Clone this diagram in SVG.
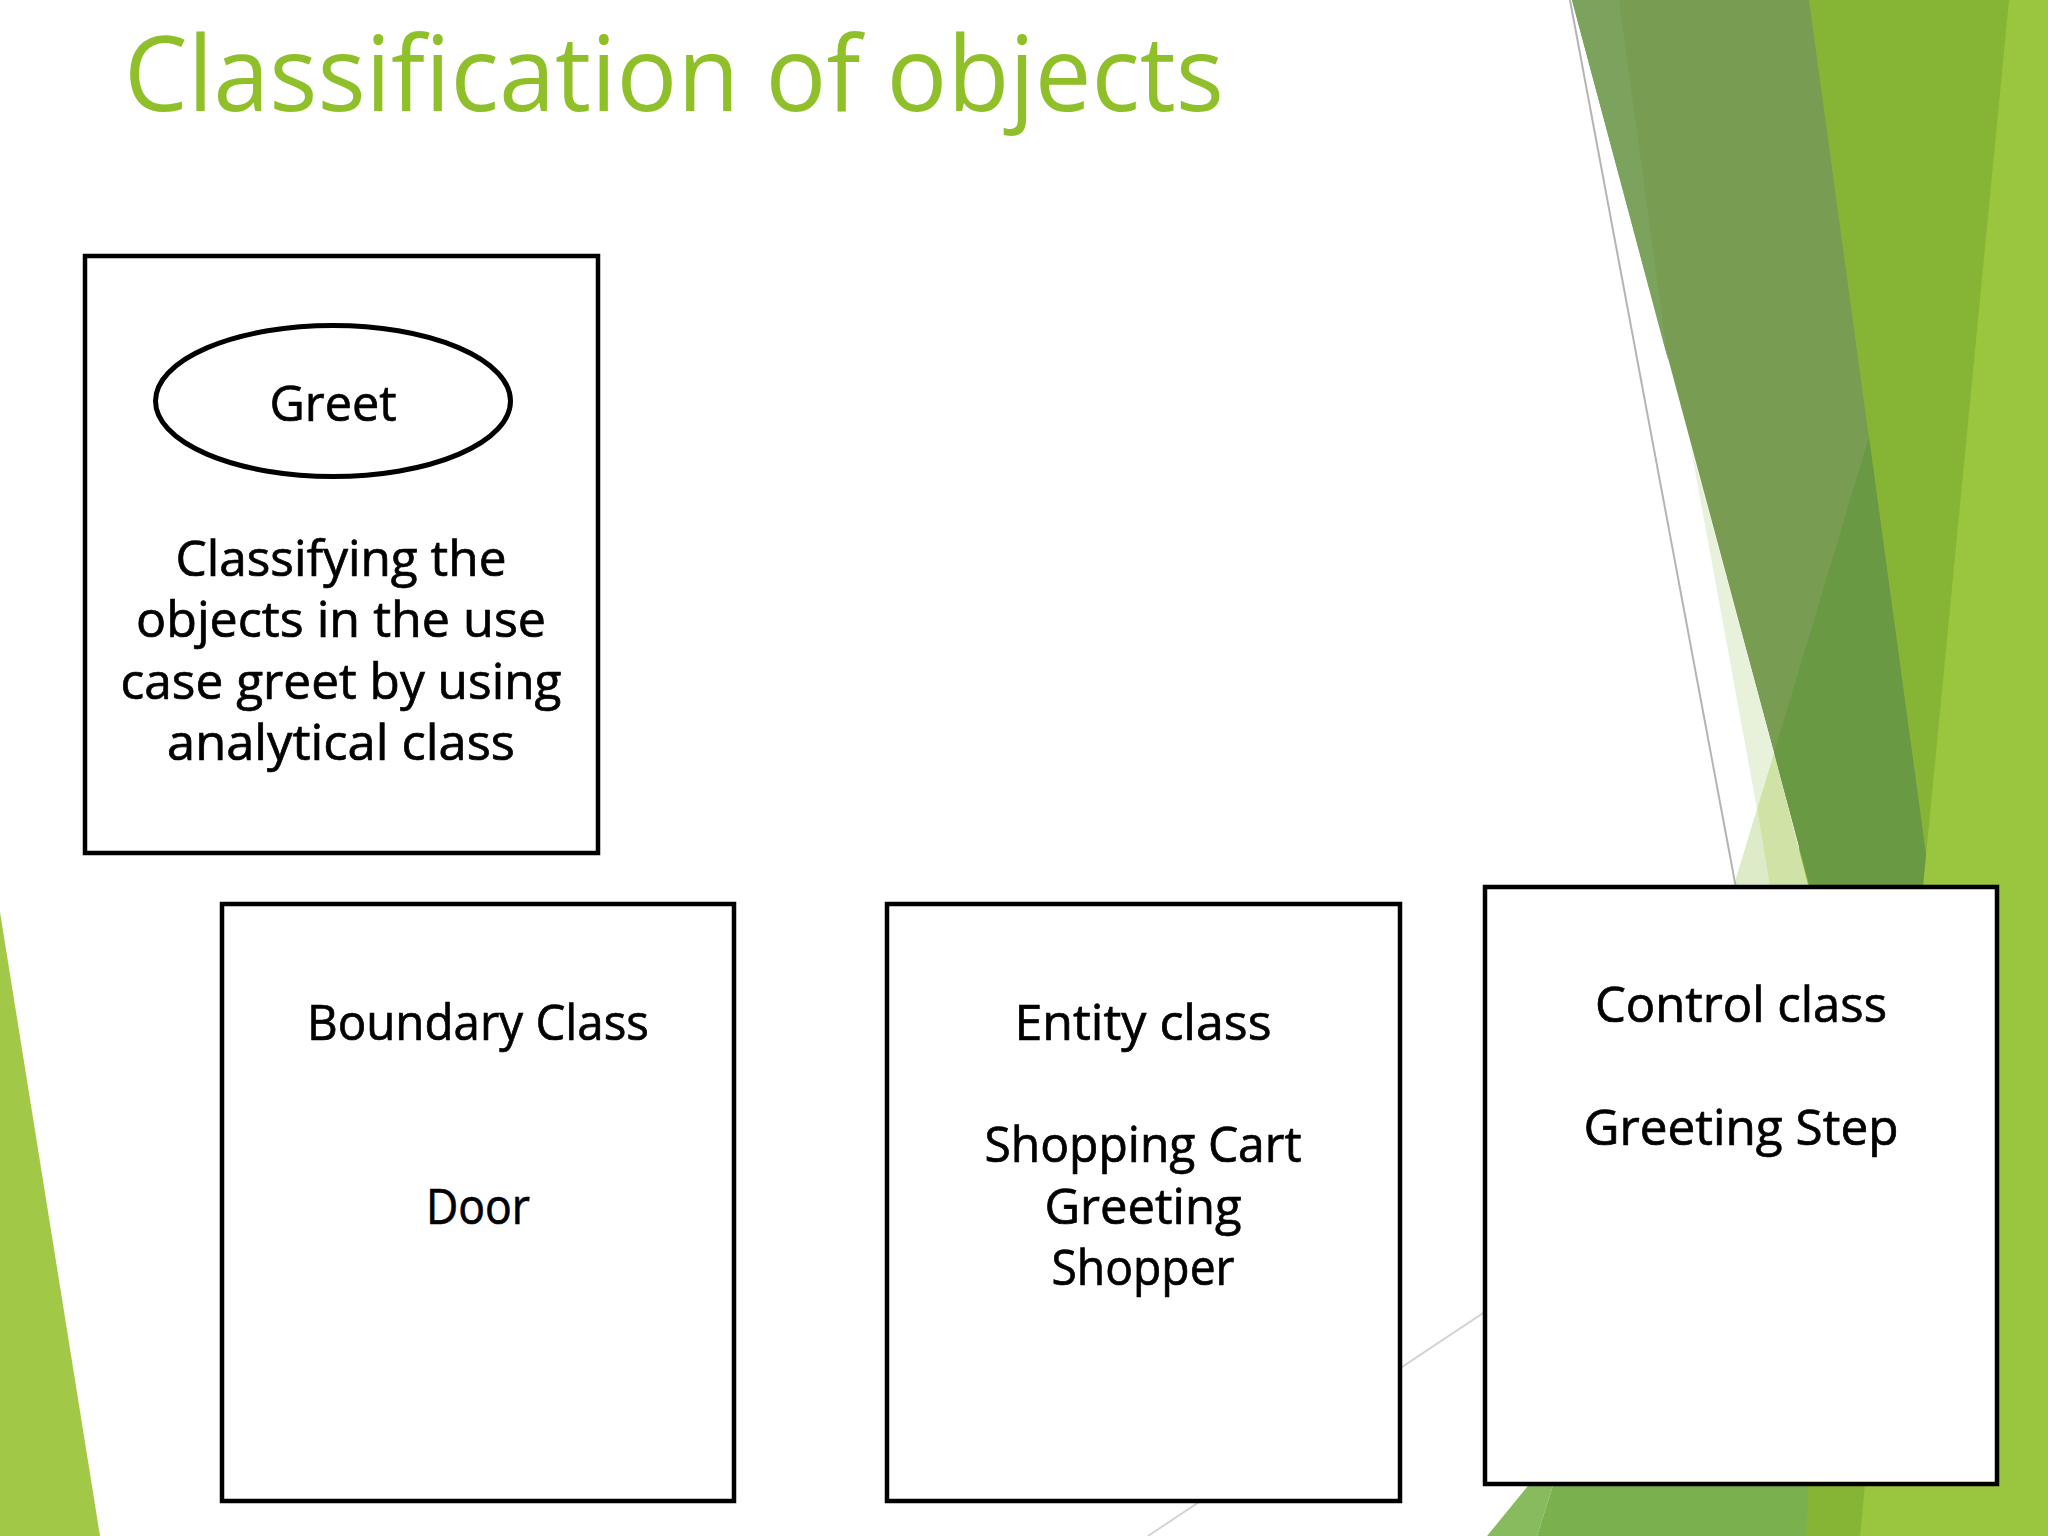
<svg xmlns="http://www.w3.org/2000/svg" width="2048" height="1536" viewBox="0 0 2048 1536">
<style>
.box{fill:#ffffff;stroke:#000000;stroke-width:4.5}
.oval{fill:#ffffff;stroke:#000000;stroke-width:5}
.t{font-family:"Open Sans","DejaVu Sans",sans-serif;font-size:50px;fill:#000000;stroke:#000000;stroke-width:0.7;text-anchor:middle}
.title{font-family:"Open Sans","DejaVu Sans",sans-serif;font-size:104px;fill:#8fc02a}
</style>
<rect x="0" y="0" width="2048" height="1536" fill="#ffffff"/>
<g id="background">
  <polygon points="0,912 100,1536 0,1536" fill="#a2c848"/>
  <polygon points="1790,0 2048,0 2048,1536 1806,1536" fill="#86b535"/>
  <polygon points="1572,0 1809,0 2019,1536 1984,1536" fill="#779c52"/>
  <polygon points="1572,0 1619,0 1668,360" fill="#7ba35d"/>
  <polygon points="1869,437 2019,1536 1984,1536 1774,753" fill="#6a9944"/>
  <polygon points="1690,443 1774,753 1757,809" fill="#e8f1da"/>
  <polygon points="1757,809 1733,888 1770,888" fill="#deebc9"/>
  <polygon points="1757,809 1774,753 1809,888 1770,888" fill="#cee3a5"/>
  <polygon points="2009,0 2048,0 2048,1536 1860,1536" fill="#99c53f"/>
  <polygon points="1536,1476 1556,1476 1537,1536 1487,1536" fill="#88bb5e"/>
  <polygon points="1556,1476 1809,1476 1806,1536 1537,1536" fill="#7bb04f"/>
  <line x1="1570" y1="0" x2="1736" y2="888" stroke="#b4b4b4" stroke-width="2"/>
  <line x1="1148" y1="1536" x2="1620" y2="1222" stroke="#d4d4d4" stroke-width="2"/>
</g>
<g id="connectors"></g>
<text class="title" x="124" y="111" textLength="1100" lengthAdjust="spacingAndGlyphs">Classification of objects</text>
<g id="node-usecase">
  <rect class="box" x="85" y="256" width="513" height="597"/>
  <ellipse class="oval" cx="333" cy="401" rx="177.5" ry="75.5"/>
  <text class="t" x="333" y="421" textLength="127" lengthAdjust="spacingAndGlyphs">Greet</text>
  <text class="t" x="341" y="576" textLength="331" lengthAdjust="spacingAndGlyphs">Classifying the</text>
  <text class="t" x="341" y="637" textLength="410" lengthAdjust="spacingAndGlyphs">objects in the use</text>
  <text class="t" x="341" y="699" textLength="441" lengthAdjust="spacingAndGlyphs">case greet by using</text>
  <text class="t" x="341" y="760" textLength="348" lengthAdjust="spacingAndGlyphs">analytical class</text>
</g>
<g id="node-boundary">
  <rect class="box" x="222" y="904" width="512" height="597"/>
  <text class="t" x="478" y="1040" textLength="342" lengthAdjust="spacingAndGlyphs">Boundary Class</text>
  <text class="t" x="478" y="1224" textLength="104" lengthAdjust="spacingAndGlyphs">Door</text>
</g>
<g id="node-entity">
  <rect class="box" x="887" y="904" width="513" height="597"/>
  <text class="t" x="1143" y="1040" textLength="257" lengthAdjust="spacingAndGlyphs">Entity class</text>
  <text class="t" x="1143" y="1162" textLength="317" lengthAdjust="spacingAndGlyphs">Shopping Cart</text>
  <text class="t" x="1143" y="1224" textLength="197" lengthAdjust="spacingAndGlyphs">Greeting</text>
  <text class="t" x="1143" y="1285" textLength="183" lengthAdjust="spacingAndGlyphs">Shopper</text>
</g>
<g id="node-control">
  <rect class="box" x="1485" y="887" width="512" height="597"/>
  <text class="t" x="1741" y="1022" textLength="292" lengthAdjust="spacingAndGlyphs">Control class</text>
  <text class="t" x="1741" y="1145" textLength="315" lengthAdjust="spacingAndGlyphs">Greeting Step</text>
</g>
</svg>
